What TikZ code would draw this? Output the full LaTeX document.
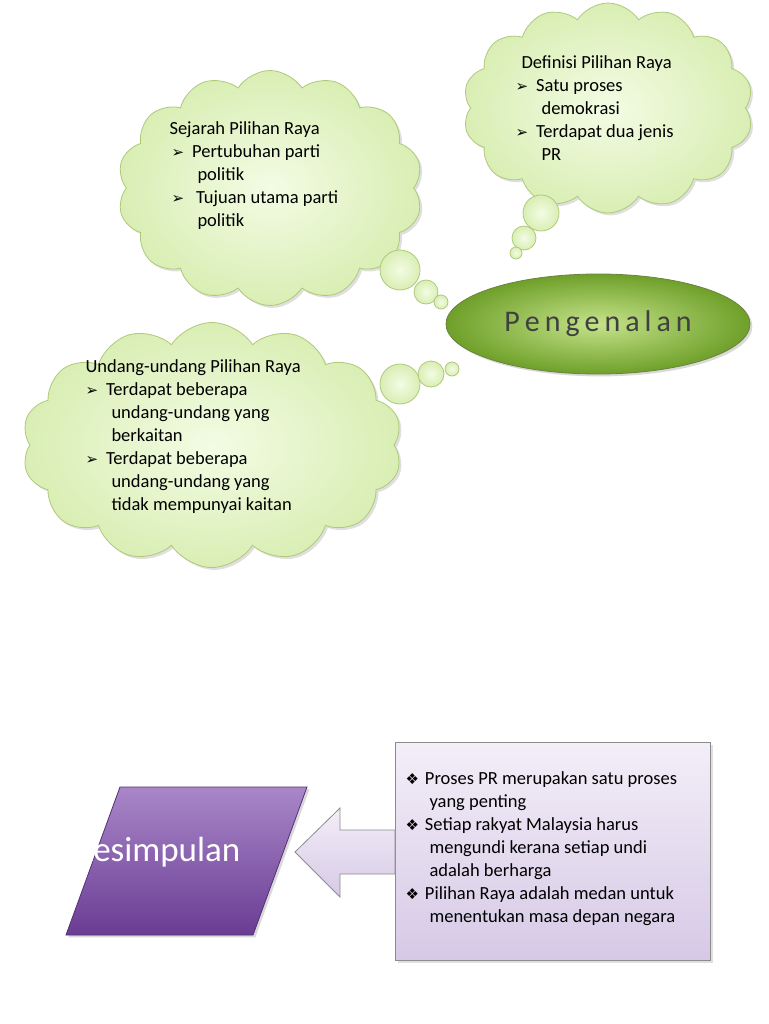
\documentclass[tikz,border=0pt]{standalone}
\usepackage{fontspec}
\setmainfont{Carlito}
\newfontfamily\djfont{DejaVu Sans}
\usetikzlibrary{shapes.symbols,shapes.geometric,shadows}
\definecolor{cloudfill}{HTML}{E4F7C4}
\definecolor{cloudin}{HTML}{F3FCE4}
\definecolor{clouddraw}{HTML}{9BBB59}
\definecolor{ellA}{HTML}{C5E38A}
\definecolor{ellB}{HTML}{6FA02A}
\definecolor{purA}{HTML}{A987C8}
\definecolor{purB}{HTML}{6A3C94}
\definecolor{lavA}{HTML}{F3EEF8}
\definecolor{lavB}{HTML}{D6C9E6}
\tikzset{
 cloudbox/.style={cloud, cloud puffs=14, cloud puff arc=115, aspect=1.3, draw=clouddraw!80, line width=0.8pt, inner color=cloudin, outer color=cloudfill!85!clouddraw, drop shadow={opacity=0.25}},
 bub/.style={circle, draw=clouddraw!80, line width=0.8pt, inner color=cloudin, outer color=cloudfill!85!clouddraw, inner sep=0pt},
 txt/.style={font=\fontsize{18.5}{23}\selectfont, text=black, align=left, anchor=north west},
}
\newcommand{\ab}{{\djfont\fontsize{15}{15}\selectfont ➢}}
\newcommand{\db}{{\djfont\fontsize{15}{15}\selectfont ❖}}
\begin{document}
\begin{tikzpicture}[x=1pt,y=-1pt]
\useasboundingbox (0,0) rectangle (768,1024);
% clouds
\node[cloudbox, minimum width=305pt, minimum height=235pt] (c1) at (270,188) {};
\node[cloudbox, minimum width=290pt, minimum height=210pt] (c2) at (608,108) {};
\node[cloudbox, minimum width=380pt, minimum height=245pt] (c3) at (212,445) {};
% bubbles
\node[bub, minimum size=40pt] (b11) at (400,270) {};
\node[bub, minimum size=24pt] (b12) at (426,292) {};
\node[bub, minimum size=14pt] (b13) at (441,302) {};
\node[bub, minimum size=36pt] (b21) at (541,213) {};
\node[bub, minimum size=24pt] (b22) at (524,238) {};
\node[bub, minimum size=12pt] (b23) at (516,253) {};
\node[bub, minimum size=40pt] (b31) at (400,384) {};
\node[bub, minimum size=26pt] (b32) at (431,374) {};
\node[bub, minimum size=14pt] (b33) at (452,369) {};
% texts
\node[txt] (t1) at (166,118) {Sejarah Pilihan Raya\\
\hspace*{2pt}\ab\hspace{8pt}Pertubuhan parti\\
\hspace*{28pt}politik\\
\hspace*{2pt}\ab\hspace{12pt}Tujuan utama parti\\
\hspace*{28pt}politik};
\node[txt] (t2) at (518,52) {Definisi Pilihan Raya\\
\hspace*{-6pt}\ab\hspace{8pt}Satu proses\\
\hspace*{20pt}demokrasi\\
\hspace*{-6pt}\ab\hspace{8pt}Terdapat dua jenis\\
\hspace*{20pt}PR};
\node[txt] (t3) at (82,356) {Undang-undang Pilihan Raya\\
\ab\hspace{8pt}Terdapat beberapa\\
\hspace*{26pt}undang-undang yang\\
\hspace*{26pt}berkaitan\\
\ab\hspace{8pt}Terdapat beberapa\\
\hspace*{26pt}undang-undang yang\\
\hspace*{26pt}tidak mempunyai kaitan};
% ellipse
\node[ellipse, minimum width=304pt, minimum height=100pt, draw=clouddraw!70!black, line width=0.8pt, inner color=ellA, outer color=ellB, drop shadow={opacity=0.3}] (pe) at (598,324) {};
\node[font=\fontsize{30}{30}\selectfont, text=black!75] (pt) at (pe) {P\,e\,n\,g\,e\,n\,a\,l\,a\,n};
% box
\node[draw=black!45, line width=0.8pt, top color=lavA, bottom color=lavB, minimum width=315pt, minimum height=218pt, anchor=north west, inner sep=0pt, drop shadow={opacity=0.25}] (bx) at (395,742) {};
\node[txt] (bt) at (402,768) {\db\hspace{6pt}Proses PR merupakan satu proses\\
\hspace*{24pt}yang penting\\
\db\hspace{6pt}Setiap rakyat Malaysia harus\\
\hspace*{24pt}mengundi kerana setiap undi\\
\hspace*{24pt}adalah berharga\\
\db\hspace{6pt}Pilihan Raya adalah medan untuk\\
\hspace*{24pt}menentukan masa depan negara};
% arrow
\coordinate (tip) at (295,852);
\draw[draw=black!45, line width=0.8pt, top color=lavA, bottom color=lavB] (tip) -- (340,808) -- (340,830) -- (bx.west |- 0,830) -- (bx.west |- 0,874) -- (340,874) -- (340,897) -- cycle;
% parallelogram
\draw[draw=purB!80!black, line width=0.8pt, top color=purA, bottom color=purB, drop shadow={opacity=0.3}] (120,787) -- (307,787) -- (253,935) -- (66,935) -- cycle;
\node[font=\fontsize{35}{35}\selectfont, text=white] (kt) at (158,852) {Kesimpulan};
\end{tikzpicture}
\end{document}
